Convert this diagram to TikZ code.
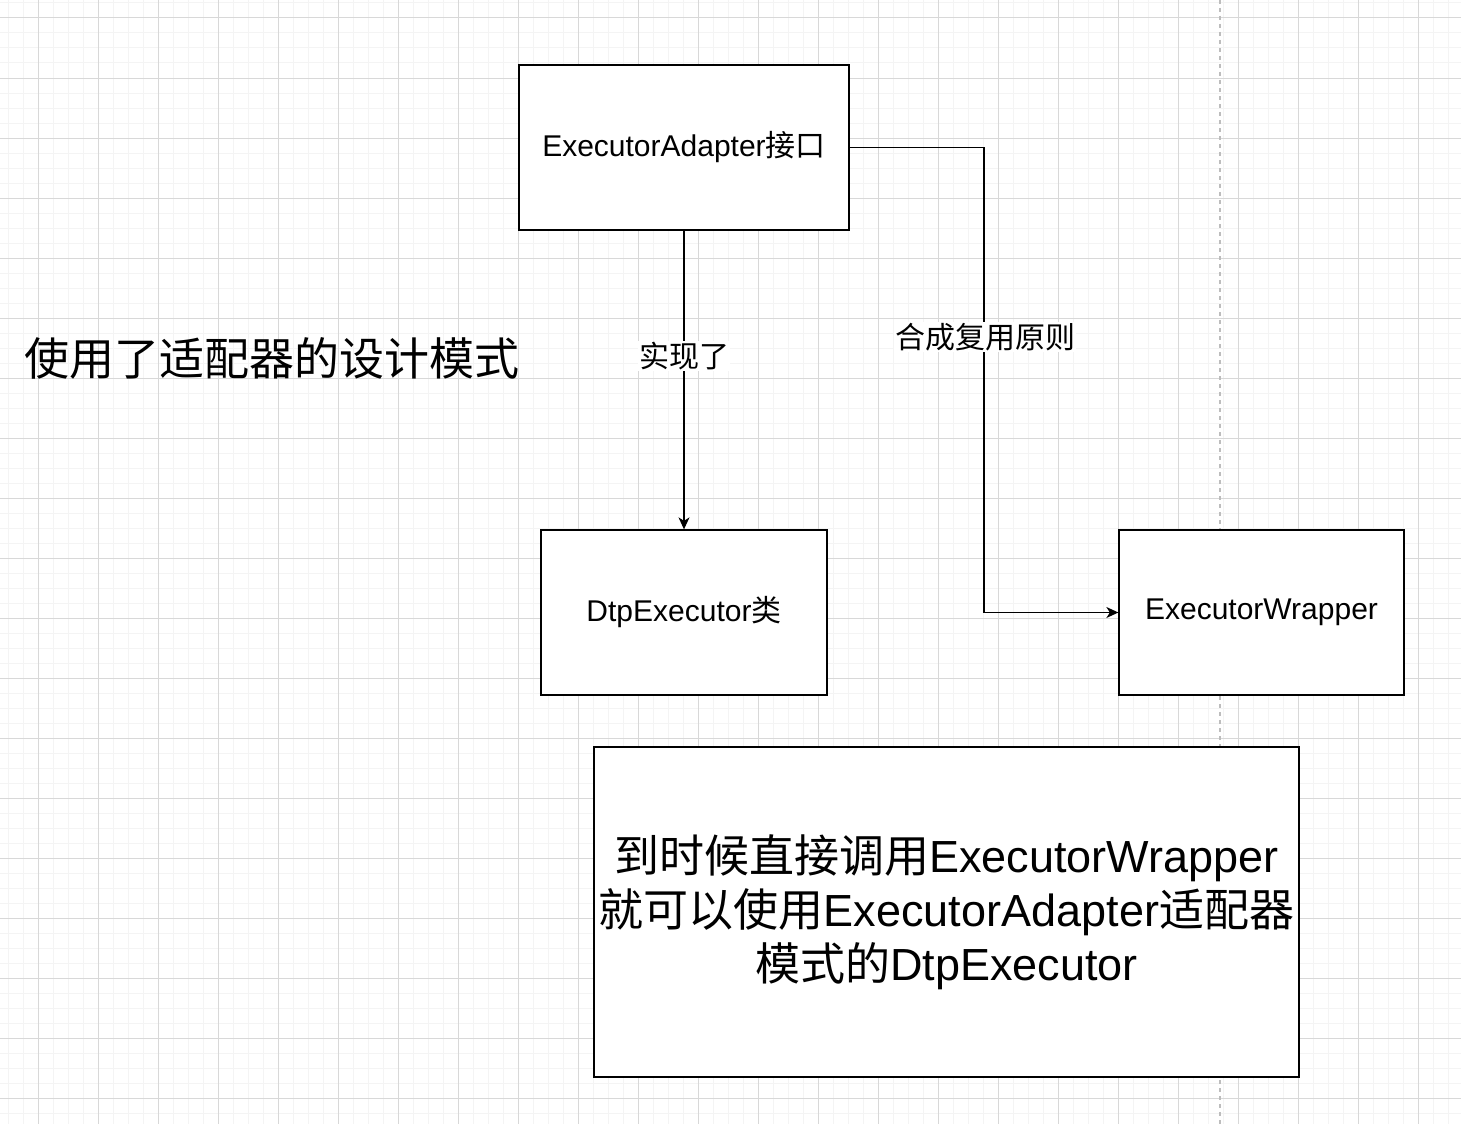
\documentclass[tikz,border=0pt]{standalone}
\usepackage{fontspec}
\setmainfont{Liberation Sans}
\newfontfamily\cjk{Noto Sans CJK SC}
\usetikzlibrary{arrows.meta,positioning}
\definecolor{gridminor}{RGB}{244, 244, 244}
\definecolor{gridmajor}{RGB}{216, 216, 216}
\tikzset{
  classbox/.style={
    draw=black,
    line width=1.3pt,
    fill=white,
    align=center,
    inner sep=0pt,
    font=\fontsize{30}{36}\selectfont
  },
  notebox/.style={
    draw=black,
    line width=1.3pt,
    fill=white,
    align=center,
    inner sep=0pt,
    font=\fontsize{45}{54}\selectfont
  },
  linkarrow/.style={
    -{Stealth[length=12pt,width=11pt,inset=3.5pt]},
    line width=1.2pt,
    draw=black
  },
  linklabel/.style={
    fill=white,
    inner sep=1pt,
    font=\fontsize{30}{36}\selectfont\cjk
  }
}

\begin{document}
\begin{tikzpicture}[x=1pt, y=-1pt]
  \useasboundingbox (0,0) rectangle (1461,1124);
  \fill[white] (0,0) rectangle (1461,1124);

  % grid
  \foreach \gx in {8,23,...,1461} \draw[gridminor, line width=1pt] (\gx,0) -- (\gx,1124);
  \foreach \gy in {3,18,...,1124} \draw[gridminor, line width=1pt] (0,\gy) -- (1461,\gy);
  \foreach \gx in {38,98,...,1461} \draw[gridmajor, line width=1pt] (\gx,0) -- (\gx,1124);
  \foreach \gy in {18,78,...,1124} \draw[gridmajor, line width=1pt] (0,\gy) -- (1461,\gy);
  \draw[gridmajor!70!gray, line width=1.2pt, dash pattern=on 4pt off 4pt] (1220,0) -- (1220,1124);

  % boxes
  \node[classbox, minimum width=330pt, minimum height=165pt] (adapter) at (684,147.5) {ExecutorAdapter{\cjk 接口}};
  \node[classbox, minimum width=286pt, minimum height=165pt] (dtp) at (684,612.5) {DtpExecutor{\cjk 类}};
  \node[classbox, minimum width=285pt, minimum height=165pt] (wrapper) at (1261.5,612.5) {ExecutorWrapper};
  \node[notebox, minimum width=705pt, minimum height=330pt] (note) at (946.5,912)
    {{\cjk 到时候直接调用}ExecutorWrapper\\{\cjk 就可以使用}ExecutorAdapter{\cjk 适配器}\\{\cjk 模式的}DtpExecutor};

  \node[font=\fontsize{45}{54}\selectfont\cjk] (title) at (272,358) {使用了适配器的设计模式};

  % connectors
  \coordinate (bend1) at (984,147.5);
  \coordinate (bend2) at (984,612.5);
  \draw[linkarrow] (adapter) -- node[linklabel, pos=0.42] (implabel) {实现了} (dtp);
  \draw[linkarrow] (adapter.east) -- (bend1) -- (bend2) -- (wrapper.west);
  \node[linklabel] (composelabel) at (985,337) {合成复用原则};
\end{tikzpicture}
\end{document}
